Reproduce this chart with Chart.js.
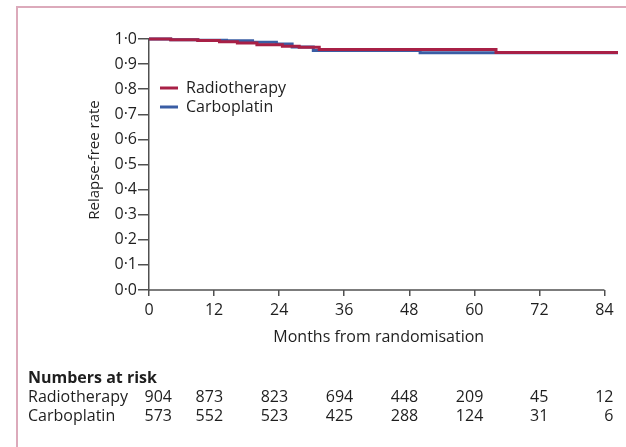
<!DOCTYPE html>
<html>
<head>
<meta charset="utf-8">
<script src="https://cdn.jsdelivr.net/npm/chart.js@4.4.1/dist/chart.umd.min.js"></script>
<style>
  html, body { margin: 0; padding: 0; background: #fff; overflow: hidden; }
  #wrap { position: relative; width: 626px; height: 447px; }
  #frame { position: absolute; left: 16px; top: 6px; width: 700px; height: 500px;
           border-left: 2px solid #dcaabb; border-top: 2px solid #dcaabb; }
  canvas { position: absolute; left: 0; top: 0; }
</style>
</head>
<body>
<div id="wrap">
  <div id="frame"></div>
  <canvas id="kmChart" width="626" height="447"></canvas>
</div>
<script>
// Kaplan-Meier steps (months, relapse-free rate)
const radioMonths = [0, 4, 9, 13, 16.3, 19.9, 24.6, 27.7, 31.4, 64, 86.5];
const radioRates  = [1.0, 0.997, 0.994, 0.989, 0.984, 0.977, 0.971, 0.967, 0.958, 0.946, 0.946];
const carboMonths = [0, 4, 9, 14.3, 19.1, 23.5, 26.4, 30.3, 50, 86.5];
const carboRates  = [1.0, 0.997, 0.995, 0.993, 0.987, 0.980, 0.968, 0.954, 0.945, 0.945];

const xTicks = [0, 12, 24, 36, 48, 60, 72, 84];
const radioAtRisk = [904, 873, 823, 694, 448, 209, 45, 12];
const carboAtRisk = [573, 552, 523, 425, 288, 124, 31, 6];

const seriesNames = ['Radiotherapy', 'Carboplatin'];
const seriesColors = ['#a82046', '#3a5da4'];

const FONT = '"Open Sans", "Noto Sans", sans-serif';
const axisColor = '#505050';
const textColor = '#1e1e1e';

function toPoints(xs, ys) {
    return xs.map((x, i) => ({ x: x, y: ys[i] }));
}

// axis line, legend, titles and the numbers-at-risk table
const extrasPlugin = {
    id: 'extras',
    afterDraw(chart) {
        const ctx = chart.ctx;
        const xs = chart.scales.x;
        const ys = chart.scales.y;
        const y0 = ys.getPixelForValue(0);
        ctx.save();

        // x axis line from 0 to 84
        ctx.strokeStyle = axisColor;
        ctx.lineWidth = 1.5;
        ctx.beginPath();
        ctx.moveTo(xs.getPixelForValue(0), y0);
        ctx.lineTo(xs.getPixelForValue(84), y0);
        ctx.stroke();

        // legend
        ctx.font = '16px ' + FONT;
        ctx.textBaseline = 'middle';
        ctx.textAlign = 'left';
        seriesNames.forEach((name, i) => {
            const ly = 88 + i * 19;
            ctx.strokeStyle = seriesColors[i];
            ctx.lineWidth = 3;
            ctx.beginPath();
            ctx.moveTo(160, ly);
            ctx.lineTo(178, ly);
            ctx.stroke();
            ctx.fillStyle = textColor;
            ctx.fillText(name, 186, ly);
        });

        // x title
        ctx.fillStyle = textColor;
        ctx.font = '16px ' + FONT;
        ctx.textAlign = 'center';
        ctx.fillText('Months from randomisation', (xs.getPixelForValue(0) + xs.getPixelForValue(84)) / 2 + 2, 337);

        // y title
        ctx.save();
        ctx.translate(95, 160);
        ctx.rotate(-Math.PI / 2);
        ctx.font = '15px ' + FONT;
        ctx.fillText('Relapse-free rate', 0, 0);
        ctx.restore();

        // numbers at risk
        ctx.textAlign = 'left';
        ctx.font = 'bold 16px ' + FONT;
        ctx.fillText('Numbers at risk', 28, 378);
        ctx.font = '16px ' + FONT;
        const rows = [radioAtRisk, carboAtRisk];
        rows.forEach((row, r) => {
            const ry = 397 + r * 19;
            ctx.textAlign = 'left';
            ctx.fillText(seriesNames[r], 28, ry);
            ctx.textAlign = 'right';
            row.forEach((n, i) => {
                const off = i === 0 ? 23 : 9;
                ctx.fillText(String(n), xs.getPixelForValue(xTicks[i]) + off, ry);
            });
        });
        ctx.restore();
    }
};

const ctx = document.getElementById('kmChart').getContext('2d');
const kmChart = new Chart(ctx, {
    type: 'line',
    data: {
        datasets: [{
            label: seriesNames[0],
            data: toPoints(radioMonths, radioRates),
            borderColor: seriesColors[0],
            borderWidth: 3,
            stepped: true,
            pointRadius: 0,
            fill: false,
            clip: false
        }, {
            label: seriesNames[1],
            data: toPoints(carboMonths, carboRates),
            borderColor: seriesColors[1],
            borderWidth: 3,
            stepped: true,
            pointRadius: 0,
            fill: false,
            clip: false
        }]
    },
    options: {
        responsive: false,
        animation: false,
        layout: {
            padding: { top: 39, right: 8, left: 0, bottom: 0 }
        },
        plugins: {
            legend: { display: false },
            tooltip: { enabled: false }
        },
        scales: {
            x: {
                type: 'linear',
                min: 0,
                max: 86.5,
                afterBuildTicks: function(scale) {
                    scale.ticks = xTicks.map(v => ({ value: v }));
                },
                afterFit: function(scale) {
                    scale.height = 157;
                },
                grid: {
                    drawOnChartArea: false,
                    drawTicks: true,
                    tickLength: 6,
                    color: axisColor,
                    lineWidth: 1.5
                },
                border: { display: false },
                ticks: {
                    padding: 5,
                    maxRotation: 0,
                    color: textColor,
                    font: { family: FONT, size: 16 }
                }
            },
            y: {
                min: 0,
                max: 1,
                afterFit: function(scale) {
                    scale.width = 149;
                },
                grid: {
                    drawOnChartArea: false,
                    drawTicks: true,
                    tickLength: 11,
                    color: axisColor,
                    lineWidth: 1.5
                },
                border: { display: true, color: axisColor, width: 1.5 },
                ticks: {
                    stepSize: 0.1,
                    padding: 1,
                    color: textColor,
                    font: { family: FONT, size: 16 },
                    callback: function(value) {
                        return value.toFixed(1).replace('.', '\u00b7');
                    }
                }
            }
        }
    },
    plugins: [extrasPlugin]
});
</script>
</body>
</html>
